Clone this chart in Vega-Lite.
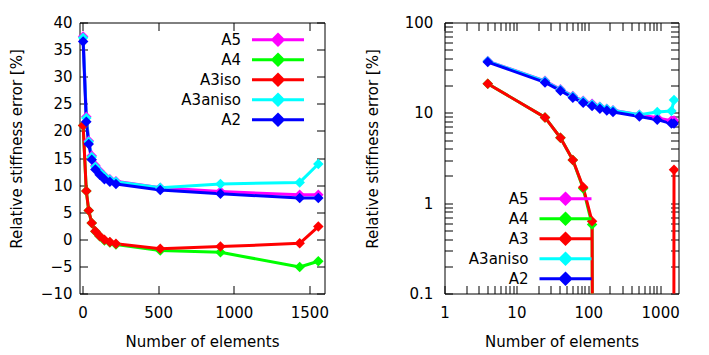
{
  "$schema": "https://vega.github.io/schema/vega-lite/v6.json",
  "padding": {"left": 8.5, "top": 14.5, "right": 5, "bottom": 5},
  "background": "white",
  "config": {
    "font": "DejaVu Sans",
    "view": {"stroke": "#000000", "strokeWidth": 1},
    "axis": {"grid": false, "domain": false, "tickColor": "#000000", "tickWidth": 1, "tickSize": -8,
      "labelFont": "DejaVu Sans", "labelFontSize": 15, "labelColor": "#000000",
      "titleFont": "DejaVu Sans", "titleFontSize": 15, "titleFontWeight": "normal", "titleColor": "#000000",
      "labelFlush": false, "labelOverlap": false}
  },
  "datasets": {
    "errs": [
      {"series": "A5", "n": 4, "err": 37.4}, {"series": "A5", "n": 25, "err": 22.6}, {"series": "A5", "n": 41, "err": 18.2}, {"series": "A5", "n": 61, "err": 15.4}, {"series": "A5", "n": 85, "err": 13.6}, {"series": "A5", "n": 113, "err": 12.6}, {"series": "A5", "n": 145, "err": 11.7}, {"series": "A5", "n": 181, "err": 11.1}, {"series": "A5", "n": 221, "err": 10.7}, {"series": "A5", "n": 514, "err": 9.5}, {"series": "A5", "n": 912, "err": 8.8}, {"series": "A5", "n": 1436, "err": 8.2}, {"series": "A5", "n": 1559, "err": 8.2},
      {"series": "A4", "n": 4, "err": 21.0}, {"series": "A4", "n": 25, "err": 8.9}, {"series": "A4", "n": 41, "err": 5.3}, {"series": "A4", "n": 61, "err": 3.0}, {"series": "A4", "n": 85, "err": 1.45}, {"series": "A4", "n": 113, "err": 0.58}, {"series": "A4", "n": 145, "err": -0.2}, {"series": "A4", "n": 181, "err": -0.6}, {"series": "A4", "n": 221, "err": -0.95}, {"series": "A4", "n": 514, "err": -2.05}, {"series": "A4", "n": 912, "err": -2.4}, {"series": "A4", "n": 1436, "err": -5.1}, {"series": "A4", "n": 1559, "err": -4.05},
      {"series": "A3iso", "n": 4, "err": 21.0}, {"series": "A3iso", "n": 25, "err": 8.9}, {"series": "A3iso", "n": 41, "err": 5.3}, {"series": "A3iso", "n": 61, "err": 3.0}, {"series": "A3iso", "n": 85, "err": 1.5}, {"series": "A3iso", "n": 113, "err": 0.63}, {"series": "A3iso", "n": 145, "err": -0.1}, {"series": "A3iso", "n": 181, "err": -0.5}, {"series": "A3iso", "n": 221, "err": -0.8}, {"series": "A3iso", "n": 514, "err": -1.75}, {"series": "A3iso", "n": 912, "err": -1.35}, {"series": "A3iso", "n": 1436, "err": -0.75}, {"series": "A3iso", "n": 1559, "err": 2.35},
      {"series": "A3aniso", "n": 4, "err": 37.2}, {"series": "A3aniso", "n": 25, "err": 22.4}, {"series": "A3aniso", "n": 41, "err": 18.0}, {"series": "A3aniso", "n": 61, "err": 15.2}, {"series": "A3aniso", "n": 85, "err": 13.4}, {"series": "A3aniso", "n": 113, "err": 12.4}, {"series": "A3aniso", "n": 145, "err": 11.6}, {"series": "A3aniso", "n": 181, "err": 11.0}, {"series": "A3aniso", "n": 221, "err": 10.6}, {"series": "A3aniso", "n": 514, "err": 9.5}, {"series": "A3aniso", "n": 912, "err": 10.2}, {"series": "A3aniso", "n": 1436, "err": 10.5}, {"series": "A3aniso", "n": 1559, "err": 13.9},
      {"series": "A2", "n": 4, "err": 36.5}, {"series": "A2", "n": 25, "err": 21.7}, {"series": "A2", "n": 41, "err": 17.6}, {"series": "A2", "n": 61, "err": 14.7}, {"series": "A2", "n": 85, "err": 12.9}, {"series": "A2", "n": 113, "err": 11.9}, {"series": "A2", "n": 145, "err": 11.1}, {"series": "A2", "n": 181, "err": 10.6}, {"series": "A2", "n": 221, "err": 10.2}, {"series": "A2", "n": 514, "err": 9.1}, {"series": "A2", "n": 912, "err": 8.4}, {"series": "A2", "n": 1436, "err": 7.6}, {"series": "A2", "n": 1559, "err": 7.6}
    ]
  },
  "bounds": "flush",
  "spacing": 120,
  "resolve": {"scale": {"color": "shared", "x": "independent", "y": "independent"}, "legend": {"color": "independent"}},
  "hconcat": [
    {
      "width": 245, "height": 271,
      "data": {"name": "errs"},
      "layer": [
        {
          "mark": {"type": "line", "strokeWidth": 3, "strokeJoin": "round"},
          "encoding": {
            "x": {"field": "n", "type": "quantitative", "scale": {"domain": [-20, 1600], "nice": false, "zero": false},
              "axis": {"orient": "bottom", "values": [0, 500, 1000, 1500], "format": "d", "labelPadding": 19.8, "title": "Number of elements", "titleY": 41}},
            "y": {"field": "err", "type": "quantitative", "scale": {"domain": [-10, 40], "nice": false, "zero": false},
              "axis": {"orient": "left", "values": [-10, -5, 0, 5, 10, 15, 20, 25, 30, 35, 40], "format": "d", "labelPadding": 15.5, "title": "Relative stiffness error [%]", "titleX": -55, "titleY": 126}},
            "color": {"field": "series", "type": "nominal",
              "scale": {"domain": ["A5", "A4", "A3iso", "A3aniso", "A2"], "range": ["#ff00ff", "#00ff00", "#ff0000", "#00ffff", "#0000ff"]},
              "legend": {"title": null, "orient": "none", "legendX": 99.5, "legendY": 8.8, "padding": 0,
                "symbolType": "M-3.714,0L3.714,0M0,-0.743L0.743,0L0,0.743L-0.743,0Z", "symbolSize": 196, "symbolStrokeWidth": 3,
                "symbolOffset": 90.5, "labelOffset": -45.5, "labelAlign": "right", "labelFont": "DejaVu Sans", "labelFontSize": 15,
                "labelColor": "#000000", "labelLimit": 300, "rowPadding": -3.55,
                "encode": {"symbols": {"update": {"fill": {"scale": "color", "field": "value"}, "stroke": {"scale": "color", "field": "value"}, "strokeWidth": {"value": 3}, "opacity": {"value": 1}}}}}}
          }
        },
        {
          "mark": {"type": "point", "shape": "diamond", "filled": true, "size": 110, "opacity": 1},
          "encoding": {
            "x": {"field": "n", "type": "quantitative", "axis": null},
            "y": {"field": "err", "type": "quantitative", "axis": null},
            "color": {"field": "series", "type": "nominal"}
          }
        },
        {
          "mark": {"type": "point", "opacity": 0},
          "encoding": {
            "x": {"field": "n", "type": "quantitative", "axis": {"orient": "top", "values": [0, 500, 1000, 1500], "labels": false, "title": null}},
            "y": {"field": "err", "type": "quantitative", "axis": {"orient": "right", "values": [-10, -5, 0, 5, 10, 15, 20, 25, 30, 35, 40], "labels": false, "title": null}}
          }
        }
      ],
      "resolve": {"axis": {"x": "independent", "y": "independent"}}
    },
    {
      "width": 234, "height": 271,
      "data": {"name": "errs"},
      "transform": [{"calculate": "datum.err > 0 ? datum.err : 1e-30", "as": "errLog"}],
      "layer": [
        {
          "mark": {"type": "line", "strokeWidth": 3, "strokeJoin": "round", "clip": true},
          "encoding": {
            "x": {"field": "n", "type": "quantitative", "scale": {"type": "log", "domain": [1, 1800], "nice": false},
              "axis": {"orient": "bottom", "values": [1, 2, 3, 4, 5, 6, 7, 8, 9, 10, 20, 30, 40, 50, 60, 70, 80, 90, 100, 200, 300, 400, 500, 600, 700, 800, 900, 1000],
                "labelExpr": "indexof([1,10,100,1000], datum.value) >= 0 ? format(datum.value, 'd') : ''",
                "labelPadding": 19.8, "title": "Number of elements", "titleY": 41,
                "encode": {"ticks": {"update": {"y2": {"signal": "indexof([1,10,100,1000], datum.value) >= 0 ? -8 : -4"}}}}}},
            "y": {"field": "errLog", "type": "quantitative", "scale": {"type": "log", "domain": [0.1, 100], "nice": false},
              "axis": {"orient": "left", "values": [0.1, 0.2, 0.3, 0.4, 0.5, 0.6, 0.7, 0.8, 0.9, 1, 2, 3, 4, 5, 6, 7, 8, 9, 10, 20, 30, 40, 50, 60, 70, 80, 90, 100],
                "labelExpr": "indexof([0.1,1,10,100], datum.value) >= 0 ? format(datum.value, '~g') : ''",
                "labelPadding": 19.6, "title": "Relative stiffness error [%]", "titleX": -64, "titleY": 126,
                "encode": {"ticks": {"update": {"x2": {"signal": "indexof([0.1,1,10,100], datum.value) >= 0 ? 8 : 4"}}}}}},
            "color": {"field": "series", "type": "nominal",
              "scale": {"domain": ["A5", "A4", "A3iso", "A3aniso", "A2"], "range": ["#ff00ff", "#00ff00", "#ff0000", "#00ffff", "#0000ff"]},
              "legend": {"title": null, "orient": "none", "legendX": 22, "legendY": 167.8, "padding": 0,
                "symbolType": "M-3.714,0L3.714,0M0,-0.743L0.743,0L0,0.743L-0.743,0Z", "symbolSize": 196, "symbolStrokeWidth": 3,
                "symbolOffset": 90.5, "labelOffset": -45.5, "labelAlign": "right", "labelFont": "DejaVu Sans", "labelFontSize": 15,
                "labelColor": "#000000", "labelLimit": 300, "rowPadding": -3.55,
                "labelExpr": "datum.label == 'A3iso' ? 'A3' : datum.label",
                "encode": {"symbols": {"update": {"fill": {"scale": "color", "field": "value"}, "stroke": {"scale": "color", "field": "value"}, "strokeWidth": {"value": 3}, "opacity": {"value": 1}}}}}}
          }
        },
        {
          "mark": {"type": "point", "shape": "diamond", "filled": true, "size": 110, "opacity": 1, "clip": true},
          "encoding": {
            "x": {"field": "n", "type": "quantitative", "axis": null},
            "y": {"field": "errLog", "type": "quantitative", "axis": null},
            "color": {"field": "series", "type": "nominal"}
          }
        },
        {
          "mark": {"type": "point", "opacity": 0, "clip": true},
          "encoding": {
            "x": {"field": "n", "type": "quantitative",
              "axis": {"orient": "top", "values": [1, 2, 3, 4, 5, 6, 7, 8, 9, 10, 20, 30, 40, 50, 60, 70, 80, 90, 100, 200, 300, 400, 500, 600, 700, 800, 900, 1000], "labels": false, "title": null,
                "encode": {"ticks": {"update": {"y2": {"signal": "indexof([1,10,100,1000], datum.value) >= 0 ? 8 : 4"}}}}}},
            "y": {"field": "errLog", "type": "quantitative",
              "axis": {"orient": "right", "values": [0.1, 0.2, 0.3, 0.4, 0.5, 0.6, 0.7, 0.8, 0.9, 1, 2, 3, 4, 5, 6, 7, 8, 9, 10, 20, 30, 40, 50, 60, 70, 80, 90, 100], "labels": false, "title": null,
                "encode": {"ticks": {"update": {"x2": {"signal": "indexof([0.1,1,10,100], datum.value) >= 0 ? -8 : -4"}}}}}}
          }
        }
      ],
      "resolve": {"axis": {"x": "independent", "y": "independent"}}
    }
  ]
}
